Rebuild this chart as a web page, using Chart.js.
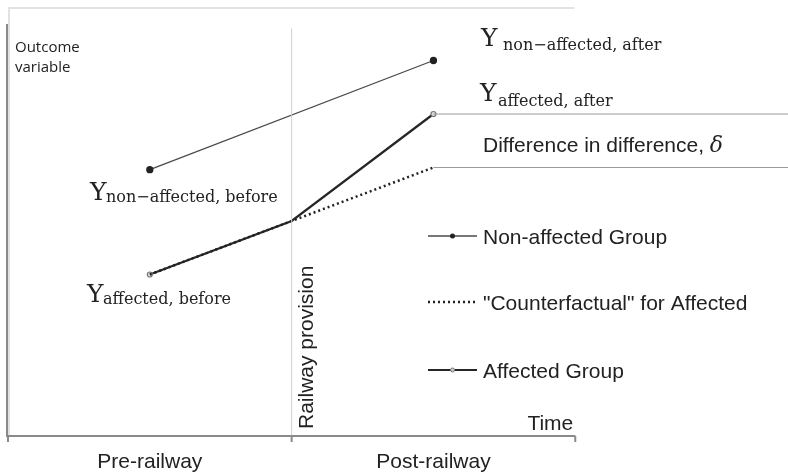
<!DOCTYPE html>
<html>
<head>
  <meta charset="UTF-8" />
  <title>Difference in difference</title>
  <script src="https://cdn.jsdelivr.net/npm/chart.js@4.4.0/dist/chart.umd.min.js"></script>
  <style>
    html,body{margin:0;padding:0;background:#fff;overflow:hidden;}
    #didChart{display:block;}
  </style>
</head>
<body>
  <canvas id="didChart" width="788" height="475"></canvas>
  <script>
    // time positions: 1 = before, 2 = railway provision, 3 = after
    const timeX=[1,2,3];
    const nonAffectedX=[1,3];
    const nonAffectedY=[6.2,8.75];
    const affectedY=[3.75,5.0,7.5];
    const counterfactualY=[3.75,5.0,6.25];
    const periodLabels=['Pre-railway','Post-railway'];
    const periodX=[1,3];
    const axisTicks=[0,2,4];
    const railwayX=2;
    const legendLabels=['Non-affected Group','"Counterfactual" for Affected','Affected Group'];

    const sans='"Liberation Sans", Arial, sans-serif';
    const serif='"DejaVu Serif", serif';

    function pts(xs,ys){return xs.map((x,i)=>({x,y:ys[i]}));}
    const lastX=timeX[timeX.length-1];

    const datasets=[
      {label:'rail',data:[{x:railwayX,y:0},{x:railwayX,y:9.5}],borderColor:'#cfcfcf',borderWidth:1,pointRadius:0},
      {label:'affectedRef',data:[{x:lastX,y:affectedY[2]},{x:5.5,y:affectedY[2]}],borderColor:'#9a9a9a',borderWidth:1,pointRadius:0},
      {label:'counterRef',data:[{x:lastX,y:counterfactualY[2]},{x:5.5,y:counterfactualY[2]}],borderColor:'#9a9a9a',borderWidth:1,pointRadius:0},
      {label:legendLabels[1],data:pts(timeX,counterfactualY),borderColor:'#222',borderWidth:2.5,borderDash:[2,3],pointRadius:0},
      {label:legendLabels[2],data:pts(timeX,affectedY),borderColor:'#262626',borderWidth:2.2,
        pointRadius:[2.5,0,2.5],pointBackgroundColor:'#ddd',pointBorderColor:'#777',pointBorderWidth:1.2},
      {label:legendLabels[0],data:pts(nonAffectedX,nonAffectedY),borderColor:'#4a4a4a',borderWidth:1.3,
        pointRadius:3,pointBackgroundColor:'#222',pointBorderColor:'#222'}
    ];

    function subLabel(ctx,x,y,main,sub,dx,dy){
      ctx.font='25px '+serif;
      ctx.fillText(main,x,y);
      ctx.font='16px '+serif;
      ctx.fillText(sub,x+dx,y+dy);
    }

    const decor={
      id:'decor',
      beforeDatasetsDraw(chart){
        const c=chart.ctx,xs=chart.scales.x,ys=chart.scales.y;
        const x0=xs.getPixelForValue(axisTicks[0]);
        const x4=xs.getPixelForValue(axisTicks[axisTicks.length-1]);
        const yb=ys.getPixelForValue(0);
        c.save();
        // light frame
        c.strokeStyle='#e2e2e2';c.lineWidth=2;
        c.beginPath();c.moveTo(x0+1,yb);c.lineTo(x0+1,8);c.lineTo(x4-1,8);c.stroke();
        // axes
        c.strokeStyle='#8a8a8a';c.lineWidth=2;
        c.beginPath();c.moveTo(x0-1,24);c.lineTo(x0-1,yb+1);c.lineTo(x4,yb+1);c.stroke();
        c.beginPath();
        axisTicks.forEach(t=>{const px=xs.getPixelForValue(t);c.moveTo(px,yb+1);c.lineTo(px,yb+7);});
        c.stroke();
        c.restore();
      },
      afterDraw(chart){
        const c=chart.ctx,xs=chart.scales.x,ys=chart.scales.y;
        c.save();
        c.fillStyle='#222';c.textBaseline='alphabetic';c.textAlign='left';
        c.font='15px "Open Sans", sans-serif';
        c.fillText('Outcome',15,52);
        c.fillText('variable',15,72);

        subLabel(c,481,46,'Y','non−affected, after',22,4);
        subLabel(c,480,101,'Y','affected, after',18,5);
        subLabel(c,90,200,'Y','non−affected, before',16,2);
        subLabel(c,87,302,'Y','affected, before',16,2);

        c.font='21px '+sans;
        const dd='Difference in difference, ';
        c.fillText(dd,483,152);
        const w=c.measureText(dd).width;
        c.font='italic 22px '+serif;
        c.fillText('δ',483+w,152);

        // legend
        const lx0=428,lx1=477,lt=483;
        const rows=[236,302,370];
        const sets=[chart.data.datasets[5],chart.data.datasets[3],chart.data.datasets[4]];
        rows.forEach((ry,i)=>{
          const ds=sets[i];
          c.strokeStyle=ds.borderColor;c.lineWidth=ds.borderWidth;
          c.setLineDash(ds.borderDash||[]);
          c.beginPath();c.moveTo(lx0,ry);c.lineTo(lx1,ry);c.stroke();
          c.setLineDash([]);
          if(i!==1){
            const r=i===0?2.5:2;
            c.beginPath();c.arc((lx0+lx1)/2,ry,r,0,Math.PI*2);
            c.fillStyle=i===0?'#222':'#ccc';c.fill();
            if(i===2){c.strokeStyle='#777';c.lineWidth=1;c.stroke();}
          }
          c.fillStyle='#222';c.font='21px '+sans;
          c.fillText(legendLabels[i],lt,ry+8);
        });

        // axis texts
        c.font='21px '+sans;
        c.textAlign='right';
        c.fillText('Time',xs.getPixelForValue(axisTicks[2])-2,430);
        c.textAlign='center';
        periodLabels.forEach((p,i)=>c.fillText(p,xs.getPixelForValue(periodX[i]),468));

        c.save();
        c.translate(xs.getPixelForValue(railwayX)+21,429);
        c.rotate(-Math.PI/2);
        c.textAlign='left';
        c.fillText('Railway provision',0,0);
        c.restore();
        c.restore();
      }
    };

    new Chart(document.getElementById('didChart'),{
      type:'line',
      data:{datasets},
      options:{
        responsive:false,animation:false,
        layout:{autoPadding:false,padding:{left:8,top:7,right:0,bottom:40}},
        plugins:{legend:{display:false},tooltip:{enabled:false}},
        elements:{line:{tension:0}},
        scales:{
          x:{type:'linear',min:0,max:5.5,display:false},
          y:{type:'linear',min:0,max:10,display:false}
        }
      },
      plugins:[decor]
    });
  </script>
</body>
</html>
